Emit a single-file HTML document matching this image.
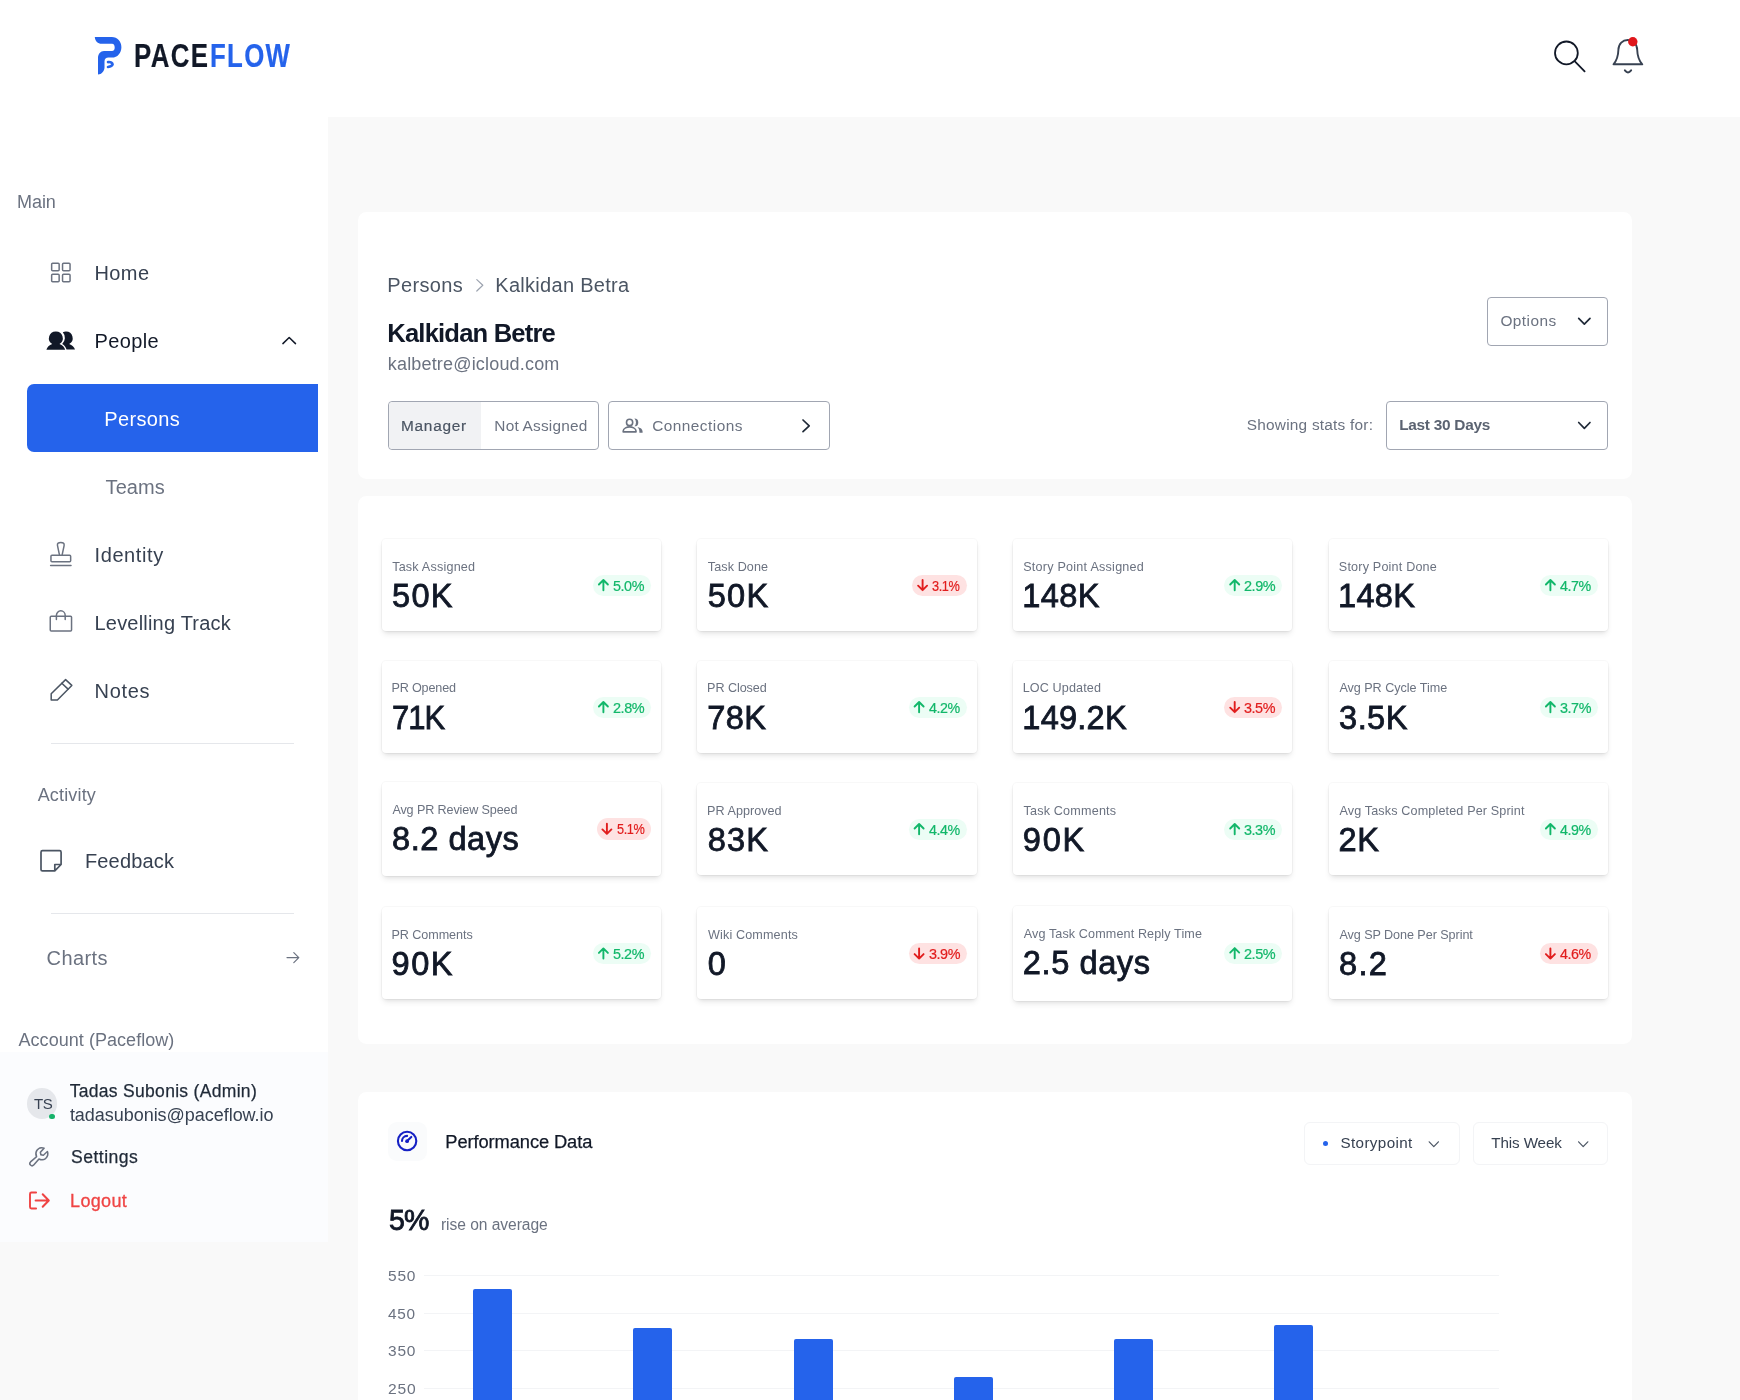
<!DOCTYPE html>
<html lang="en"><head><meta charset="utf-8"><title>Paceflow – Kalkidan Betre</title>
<style>
html,body{margin:0;padding:0;background:#fff;}
body{width:1740px;height:1400px;overflow:hidden;font-family:"Liberation Sans",sans-serif;}
#page{position:relative;width:1740px;height:1400px;overflow:hidden;background:#fff;}
.a{position:absolute;box-sizing:border-box;}
.t{position:absolute;white-space:nowrap;line-height:1;font-family:"Liberation Sans",sans-serif;}
.card{position:absolute;background:#fff;border-radius:8.5px;}
.stat{position:absolute;background:#fff;border-radius:4px;box-shadow:0 4px 6px -1px rgba(0,0,0,.085),0 2px 4px -2px rgba(0,0,0,.10),0 0 0 1px rgba(0,0,0,.028);}
.bg{position:absolute;border-radius:11px;height:21.4px;}
.bg.g{background:#ecfdf5;}
.bg.r{background:#fee2e2;}
.btn{position:absolute;box-sizing:border-box;border:1px solid #a1a6b2;border-radius:4px;background:#fff;}
.dd{position:absolute;box-sizing:border-box;border:1px solid #f3f4f6;border-radius:6px;background:#fff;}
svg.ov{position:absolute;left:0;top:0;width:1740px;height:1400px;overflow:visible;pointer-events:none;}
#tx{position:absolute;left:0;top:0;width:1740px;height:1400px;will-change:transform;}
</style></head>
<body>
<div id="page">
<div class="a" style="left:328.20px;top:117.00px;width:1411.80px;height:1283.00px;background:#f9f9f9;"></div>
<div class="a" style="left:0.00px;top:1242.00px;width:328.20px;height:158.00px;background:#f9f9f9;"></div>
<div class="a" style="left:0.00px;top:1052.00px;width:328.20px;height:190.00px;background:#fbfcfe;"></div>
<div class="a" style="left:27.00px;top:384.00px;width:291.00px;height:68.40px;background:#2563eb;border-radius:7px 0 0 7px;"></div>
<div class="a" style="left:51.00px;top:742.70px;width:243.00px;height:1.20px;background:#e5e7eb;"></div>
<div class="a" style="left:51.00px;top:912.50px;width:243.00px;height:1.20px;background:#e5e7eb;"></div>
<div class="a" style="left:27.00px;top:1088.40px;width:30.00px;height:30.20px;background:#e5e7eb;border-radius:50%;"></div>
<div class="a" style="left:49.40px;top:1113.80px;width:5.60px;height:5.60px;background:#17b26a;border-radius:50%;"></div>
<div class="card" style="left:358.00px;top:212.00px;width:1274.00px;height:267.00px;"></div>
<div class="card" style="left:358.00px;top:496.00px;width:1274.00px;height:548.00px;"></div>
<div class="card" style="left:358.00px;top:1092.00px;width:1274.00px;height:338.00px;"></div>
<div class="btn" style="left:388.00px;top:401.00px;width:211.40px;height:49.00px;"></div>
<div class="a" style="left:389.00px;top:402.00px;width:92.00px;height:47.00px;background:#f1f2f4;border-radius:4px 0 0 4px;"></div>
<div class="btn" style="left:608.30px;top:401.00px;width:221.60px;height:49.00px;"></div>
<div class="btn" style="left:1487.30px;top:297.00px;width:121.10px;height:49.00px;"></div>
<div class="btn" style="left:1386.40px;top:401.00px;width:222.00px;height:49.00px;"></div>
<div class="stat" style="left:381.70px;top:539.00px;width:279.20px;height:92.00px;"></div>
<div class="bg g" style="left:593.00px;top:574.70px;width:58.20px;height:21.40px;"></div>
<div class="stat" style="left:697.40px;top:539.00px;width:279.20px;height:92.00px;"></div>
<div class="bg r" style="left:912.20px;top:574.70px;width:54.70px;height:21.40px;"></div>
<div class="stat" style="left:1013.00px;top:539.00px;width:279.20px;height:92.00px;"></div>
<div class="bg g" style="left:1224.30px;top:574.70px;width:58.20px;height:21.40px;"></div>
<div class="stat" style="left:1328.70px;top:539.00px;width:279.20px;height:92.00px;"></div>
<div class="bg g" style="left:1540.00px;top:574.70px;width:58.20px;height:21.40px;"></div>
<div class="stat" style="left:381.70px;top:661.00px;width:279.20px;height:92.00px;"></div>
<div class="bg g" style="left:593.00px;top:696.70px;width:58.20px;height:21.40px;"></div>
<div class="stat" style="left:697.40px;top:661.00px;width:279.20px;height:92.00px;"></div>
<div class="bg g" style="left:908.70px;top:696.70px;width:58.20px;height:21.40px;"></div>
<div class="stat" style="left:1013.00px;top:661.00px;width:279.20px;height:92.00px;"></div>
<div class="bg r" style="left:1224.30px;top:696.70px;width:58.20px;height:21.40px;"></div>
<div class="stat" style="left:1328.70px;top:661.00px;width:279.20px;height:92.00px;"></div>
<div class="bg g" style="left:1540.00px;top:696.70px;width:58.20px;height:21.40px;"></div>
<div class="stat" style="left:381.70px;top:781.80px;width:279.20px;height:94.40px;"></div>
<div class="bg r" style="left:596.50px;top:818.40px;width:54.70px;height:21.40px;"></div>
<div class="stat" style="left:697.40px;top:783.00px;width:279.20px;height:92.00px;"></div>
<div class="bg g" style="left:908.70px;top:818.70px;width:58.20px;height:21.40px;"></div>
<div class="stat" style="left:1013.00px;top:783.00px;width:279.20px;height:92.00px;"></div>
<div class="bg g" style="left:1224.30px;top:818.70px;width:58.20px;height:21.40px;"></div>
<div class="stat" style="left:1328.70px;top:783.00px;width:279.20px;height:92.00px;"></div>
<div class="bg g" style="left:1540.00px;top:818.70px;width:58.20px;height:21.40px;"></div>
<div class="stat" style="left:381.70px;top:907.40px;width:279.20px;height:92.00px;"></div>
<div class="bg g" style="left:593.00px;top:943.10px;width:58.20px;height:21.40px;"></div>
<div class="stat" style="left:697.40px;top:907.40px;width:279.20px;height:92.00px;"></div>
<div class="bg r" style="left:908.70px;top:943.10px;width:58.20px;height:21.40px;"></div>
<div class="stat" style="left:1013.00px;top:906.20px;width:279.20px;height:94.40px;"></div>
<div class="bg g" style="left:1224.30px;top:942.80px;width:58.20px;height:21.40px;"></div>
<div class="stat" style="left:1328.70px;top:907.40px;width:279.20px;height:92.00px;"></div>
<div class="bg r" style="left:1540.00px;top:943.10px;width:58.20px;height:21.40px;"></div>
<div class="a" style="left:387.50px;top:1122.00px;width:39.00px;height:38.80px;background:#fafbfc;border-radius:9px;"></div>
<div class="dd" style="left:1304.00px;top:1122.00px;width:156.00px;height:43.00px;"></div>
<div class="dd" style="left:1473.00px;top:1122.00px;width:135.00px;height:43.00px;"></div>
<div class="a" style="left:1322.80px;top:1141.00px;width:5.20px;height:5.20px;background:#2563eb;border-radius:50%;"></div>
<div class="a" style="left:424.00px;top:1274.70px;width:1075.00px;height:1.20px;background:#f3f4f6;"></div>
<div class="a" style="left:424.00px;top:1312.60px;width:1075.00px;height:1.20px;background:#f3f4f6;"></div>
<div class="a" style="left:424.00px;top:1349.70px;width:1075.00px;height:1.20px;background:#f3f4f6;"></div>
<div class="a" style="left:424.00px;top:1387.60px;width:1075.00px;height:1.20px;background:#f3f4f6;"></div>
<div class="a" style="left:472.70px;top:1289.40px;width:39.00px;height:120.60px;background:#2563eb;border-radius:2px 2px 0 0;"></div>
<div class="a" style="left:633.20px;top:1328.30px;width:39.00px;height:81.70px;background:#2563eb;border-radius:2px 2px 0 0;"></div>
<div class="a" style="left:793.60px;top:1339.00px;width:39.00px;height:71.00px;background:#2563eb;border-radius:2px 2px 0 0;"></div>
<div class="a" style="left:954.00px;top:1377.00px;width:39.00px;height:33.00px;background:#2563eb;border-radius:2px 2px 0 0;"></div>
<div class="a" style="left:1114.00px;top:1339.00px;width:39.00px;height:71.00px;background:#2563eb;border-radius:2px 2px 0 0;"></div>
<div class="a" style="left:1274.40px;top:1324.60px;width:39.00px;height:85.40px;background:#2563eb;border-radius:2px 2px 0 0;"></div>
<svg class="ov" viewBox="0 0 1740 1400" fill="none" stroke-linecap="round" stroke-linejoin="round">
<!-- logo -->
<path fill="#2563eb" d="M94.8 37H111.8C117.5 37 121.4 41.5 121.4 47.2C121.4 53 117.5 57.6 112 57.6H108.5C106 57.6 104.5 59 104.5 61.5V67.5C104.5 71 101.5 74.5 98 74.5V58C98 54 100.5 51.1 104 51.1H112C113.8 51.1 114.7 49.5 114.7 47.5C114.7 45.4 113.8 43.8 112 43.8H101.5C98 43.8 95 41 94.8 37Z"/>
<path stroke="#2563eb" stroke-width="2.6" d="M108 62.1C111 61.7 112.6 63 112.6 64.4C112.2 65.8 110.6 66.6 108 67"/>
<!-- search -->
<g stroke="#111827" stroke-width="1.8"><circle cx="1566.4" cy="52.9" r="11.4"/><path d="M1574.6 61.1L1584.6 71.3"/></g>
<!-- bell -->
<g stroke="#374151" stroke-width="1.9"><path d="M1613.5 64.3C1616.6 60.8 1618.2 56.5 1618.4 49.8C1618.6 43.6 1622.6 40 1627.8 40C1633 40 1637 43.6 1637.2 49.8C1637.4 56.5 1639 60.8 1642.3 64.3Z"/><path stroke-width="2" d="M1624.9 70.4Q1628 74.4 1631.1 70.4"/></g>
<circle cx="1632.8" cy="41.8" r="4.7" fill="#e0161b"/>
<!-- home -->
<g stroke="#6b7280" stroke-width="1.5"><rect x="51.65" y="263.25" width="7.5" height="7.5" rx="1"/><rect x="62.55" y="263.25" width="7.5" height="7.5" rx="1"/><rect x="51.65" y="274.15" width="7.5" height="7.5" rx="1"/><rect x="62.55" y="274.15" width="7.5" height="7.5" rx="1"/></g>
<!-- people -->
<g fill="#111827"><path d="M65.9 331.5a6.6 6.6 0 0 1 3.3 12.4c2.9 1.2 5 3 5.8 5.7h-8.5c-.5-2.4-2-4.3-4.3-5.6a8.4 8.4 0 0 0 .6-11.7a6.6 6.6 0 0 1 3.1-.8z"/><path d="M55.9 331.4a6.8 6.8 0 0 1 3.6 12.6c3 1.2 5 3.1 5.7 5.7h-18.8c.7-2.6 2.8-4.5 5.8-5.7a6.8 6.8 0 0 1 3.7-12.6z"/></g>
<path stroke="#111827" stroke-width="1.5" d="M282.9 343.6L289.2 337.5L295.5 343.6"/>
<!-- stamp -->
<g stroke="#6b7280" stroke-width="1.5"><path d="M59.4 554.6L57.5 545.6C57 543.2 58.6 542.6 60.8 542.6C63 542.6 64.6 543.2 64.1 545.6L62.2 554.6"/><rect x="50.95" y="555.15" width="19.7" height="6.5" rx="1"/><path d="M50.6 565.4H71"/></g>
<!-- bag -->
<g stroke="#6b7280" stroke-width="1.5"><rect x="50.25" y="616.15" width="21.3" height="14.9" rx="1"/><path d="M56.4 619.4V615.6a4.4 4.8 0 0 1 8.8 0V619.4"/></g>
<!-- pencil -->
<g stroke="#4b5563" stroke-width="1.5"><path d="M65.6 679.6L71.8 685.4L57.4 700.1H51.2V693.7Z"/><path d="M61.8 683.3L68.1 689.1"/></g>
<!-- note -->
<path stroke="#4b5563" stroke-width="1.7" d="M42.5 850.7H59.6a1.5 1.5 0 0 1 1.5 1.5V864.5L54.8 870.9H42.5a1.5 1.5 0 0 1-1.5-1.5V852.2a1.5 1.5 0 0 1 1.5-1.5ZM54.8 870.6V864.5H61"/>
<!-- charts arrow -->
<path stroke="#6b7280" stroke-width="1.2" d="M287 957.6H298.8M293.8 952.6L298.8 957.6L293.8 962.6"/>
<!-- wrench -->
<g transform="translate(26.85 1144.75) scale(.09375)"><path fill="#6b7280" stroke="none" d="M226.76,69a8,8,0,0,0-12.84-2.88l-40.3,37.19-17.23-3.7-3.7-17.23,37.19-40.3A8,8,0,0,0,187,29.24,72,72,0,0,0,88,96,72.34,72.34,0,0,0,94,124.94L33.79,177c-.15.12-.29.26-.43.39a32,32,0,0,0,45.26,45.26c.13-.13.27-.28.39-.42L131.06,162A72,72,0,0,0,232,96,71.56,71.56,0,0,0,226.76,69ZM160,152a56.14,56.14,0,0,1-27.07-7,8,8,0,0,0-9.92,1.77L67.11,211.51a16,16,0,0,1-22.62-22.62L109.18,133a8,8,0,0,0,1.77-9.93,56,56,0,0,1,58.36-82.31l-31.2,33.81a8,8,0,0,0-1.94,7.1L141.83,108a8,8,0,0,0,6.14,6.14l26.35,5.66a8,8,0,0,0,7.1-1.94l33.81-31.2A56.06,56.06,0,0,1,160,152Z"/></g>
<!-- logout -->
<g stroke="#ef4444" stroke-width="1.9"><path d="M36.1 1192.5H31.4a1.4 1.4 0 0 0-1.4 1.4V1207.1a1.4 1.4 0 0 0 1.4 1.4H36.1"/><path stroke-width="2" d="M35.6 1200.5H48.4M42.7 1194.2L48.8 1200.5L42.7 1206.8"/></g>
<!-- breadcrumb chevron -->
<path stroke="#9ca3af" stroke-width="1.2" d="M476.8 279.6L482.8 285.3L476.8 291"/>
<!-- connections icon -->
<g stroke="#6b7280" stroke-width="1.6"><circle cx="629.6" cy="422.4" r="3.1"/><path d="M623.2 431.9v-1c0-2.8 4.1-4 6.4-4s6.4 1.2 6.4 4v1Z"/></g><g fill="#6b7280"><path d="M634.4 418.5a3.9 3.9 0 0 1 0 7.8a5.6 5.6 0 0 0 0-7.8z"/><path d="M637.4 427c3.1.6 5.2 2.2 5.2 4.5v1.2h-3.2v-1.2c0-1.8-.8-3.3-2-4.5z"/></g>
<path stroke="#1f2937" stroke-width="1.7" d="M803 420L809.2 425.8L803 431.6"/>
<!-- select chevrons -->
<path stroke="#1f2937" stroke-width="1.7" d="M1578.7 318.3L1584.35 324.1L1590 318.3"/>
<path stroke="#1f2937" stroke-width="1.7" d="M1578.7 422.5L1584.35 428.3L1590 422.5"/>
<!-- perf icon -->
<g stroke="#1621c4" stroke-width="2.1"><circle cx="407.1" cy="1141" r="9.2"/><path d="M402 1141a5.1 5.1 0 0 1 5.1-5.1"/><path d="M407.1 1141.1L411.3 1136.9"/></g>
<circle cx="407.1" cy="1141.2" r="1.9" fill="#1621c4"/>
<!-- chart dropdown chevrons -->
<path stroke="#4b5563" stroke-width="1.2" d="M1429.2 1141.8L1433.8 1146.6L1438.4 1141.8"/>
<path stroke="#4b5563" stroke-width="1.2" d="M1578.6 1141.8L1583.2 1146.6L1587.8 1141.8"/>
<path stroke="#12b76a" stroke-width="1.9" d="M603.4 590.2V580.1M598.9 584.5L603.4 580.0L607.9 584.5"/>
<path stroke="#e11d1d" stroke-width="1.9" d="M922.6 580.0V590.1M918.1 585.7L922.6 590.2L927.1 585.7"/>
<path stroke="#12b76a" stroke-width="1.9" d="M1234.7 590.2V580.1M1230.2 584.5L1234.7 580.0L1239.2 584.5"/>
<path stroke="#12b76a" stroke-width="1.9" d="M1550.4 590.2V580.1M1545.9 584.5L1550.4 580.0L1554.9 584.5"/>
<path stroke="#12b76a" stroke-width="1.9" d="M603.4 712.2V702.1M598.9 706.5L603.4 702.0L607.9 706.5"/>
<path stroke="#12b76a" stroke-width="1.9" d="M919.1 712.2V702.1M914.6 706.5L919.1 702.0L923.6 706.5"/>
<path stroke="#e11d1d" stroke-width="1.9" d="M1234.7 702.0V712.1M1230.2 707.7L1234.7 712.2L1239.2 707.7"/>
<path stroke="#12b76a" stroke-width="1.9" d="M1550.4 712.2V702.1M1545.9 706.5L1550.4 702.0L1554.9 706.5"/>
<path stroke="#e11d1d" stroke-width="1.9" d="M606.9 823.7V833.8M602.4 829.4L606.9 833.9L611.4 829.4"/>
<path stroke="#12b76a" stroke-width="1.9" d="M919.1 834.2V824.1M914.6 828.5L919.1 824.0L923.6 828.5"/>
<path stroke="#12b76a" stroke-width="1.9" d="M1234.7 834.2V824.1M1230.2 828.5L1234.7 824.0L1239.2 828.5"/>
<path stroke="#12b76a" stroke-width="1.9" d="M1550.4 834.2V824.1M1545.9 828.5L1550.4 824.0L1554.9 828.5"/>
<path stroke="#12b76a" stroke-width="1.9" d="M603.4 958.6V948.5M598.9 952.9L603.4 948.4L607.9 952.9"/>
<path stroke="#e11d1d" stroke-width="1.9" d="M919.1 948.4V958.5M914.6 954.1L919.1 958.6L923.6 954.1"/>
<path stroke="#12b76a" stroke-width="1.9" d="M1234.7 958.3V948.2M1230.2 952.6L1234.7 948.1L1239.2 952.6"/>
<path stroke="#e11d1d" stroke-width="1.9" d="M1550.4 948.4V958.5M1545.9 954.1L1550.4 958.6L1554.9 954.1"/>
</svg>

<div id="tx">
<span class="t" style="left:134.18px;top:39.00px;font-size:33px;letter-spacing:1.700px;font-weight:700;color:#111827;-webkit-text-stroke:0.2px #111827;transform:scaleX(0.7833);transform-origin:0 0;">PACE</span>
<span class="t" style="left:209.79px;top:39.00px;font-size:33px;letter-spacing:1.700px;font-weight:700;color:#2563eb;-webkit-text-stroke:0.2px #2563eb;transform:scaleX(0.7823);transform-origin:0 0;">FLOW</span>
<span class="t" style="left:17.09px;top:193.00px;font-size:18px;letter-spacing:-0.099px;color:#6b7280;">Main</span>
<span class="t" style="left:94.54px;top:263.00px;font-size:20px;letter-spacing:0.374px;color:#374151;">Home</span>
<span class="t" style="left:94.54px;top:331.00px;font-size:20px;letter-spacing:0.360px;color:#111827;">People</span>
<span class="t" style="left:104.34px;top:409.00px;font-size:20px;letter-spacing:0.353px;color:#ffffff;">Persons</span>
<span class="t" style="left:105.59px;top:477.00px;font-size:20px;letter-spacing:0.083px;color:#6b7280;">Teams</span>
<span class="t" style="left:94.54px;top:545.00px;font-size:20px;letter-spacing:0.597px;color:#374151;">Identity</span>
<span class="t" style="left:94.54px;top:613.00px;font-size:20px;letter-spacing:0.199px;color:#374151;">Levelling Track</span>
<span class="t" style="left:94.54px;top:681.00px;font-size:20px;letter-spacing:0.660px;color:#374151;">Notes</span>
<span class="t" style="left:37.70px;top:786.00px;font-size:18px;letter-spacing:0.156px;color:#6b7280;">Activity</span>
<span class="t" style="left:84.94px;top:851.00px;font-size:20px;letter-spacing:0.160px;color:#374151;">Feedback</span>
<span class="t" style="left:46.56px;top:948.00px;font-size:20px;letter-spacing:0.391px;color:#6b7280;">Charts</span>
<span class="t" style="left:18.50px;top:1031.00px;font-size:18px;letter-spacing:0.045px;color:#6b7280;">Account (Paceflow)</span>
<span class="t" style="left:34.07px;top:1096.00px;font-size:15.2px;letter-spacing:-0.456px;color:#374151;transform:scaleX(0.9894);transform-origin:0 0;">TS</span>
<span class="t" style="left:69.63px;top:1083.00px;font-size:17.5px;letter-spacing:0.308px;color:#1f2937;-webkit-text-stroke:0.25px #1f2937;">Tadas Subonis (Admin)</span>
<span class="t" style="left:69.90px;top:1106.00px;font-size:18px;letter-spacing:-0.035px;color:#374151;">tadasubonis@paceflow.io</span>
<span class="t" style="left:70.95px;top:1149.00px;font-size:17.6px;letter-spacing:0.487px;color:#1f2937;-webkit-text-stroke:0.25px #1f2937;">Settings</span>
<span class="t" style="left:70.09px;top:1192.00px;font-size:18px;letter-spacing:0.318px;color:#ef4444;-webkit-text-stroke:0.3px #ef4444;">Logout</span>
<span class="t" style="left:387.34px;top:275.00px;font-size:20px;letter-spacing:0.353px;color:#4b5563;">Persons</span>
<span class="t" style="left:495.34px;top:275.00px;font-size:20px;letter-spacing:0.281px;color:#4b5563;">Kalkidan Betra</span>
<span class="t" style="left:387.30px;top:321.00px;font-size:25.6px;letter-spacing:-0.825px;font-weight:700;color:#111827;">Kalkidan Betre</span>
<span class="t" style="left:387.77px;top:355.00px;font-size:18px;letter-spacing:0.178px;color:#6b7280;">kalbetre@icloud.com</span>
<span class="t" style="left:400.90px;top:418.00px;font-size:15.4px;letter-spacing:0.766px;color:#4b5563;-webkit-text-stroke:0.2px #4b5563;">Manager</span>
<span class="t" style="left:494.30px;top:418.00px;font-size:15.4px;letter-spacing:0.216px;color:#6b7280;">Not Assigned</span>
<span class="t" style="left:652.18px;top:418.00px;font-size:15.4px;letter-spacing:0.469px;color:#6b7280;">Connections</span>
<span class="t" style="left:1500.38px;top:313.00px;font-size:15.4px;letter-spacing:0.472px;color:#6b7280;">Options</span>
<span class="t" style="left:1246.82px;top:417.00px;font-size:15.4px;letter-spacing:0.222px;color:#6b7280;">Showing stats for:</span>
<span class="t" style="left:1399.14px;top:417.00px;font-size:15.4px;letter-spacing:-0.262px;font-weight:700;color:#5b6371;">Last 30 Days</span>
<span class="t" style="left:392.15px;top:561.00px;font-size:12.6px;letter-spacing:0.201px;color:#6b7280;">Task Assigned</span>
<span class="t" style="left:392.08px;top:580.00px;font-size:32.6px;letter-spacing:1.232px;color:#111827;-webkit-text-stroke:0.8px #111827;">50K</span>
<span class="t" style="left:613.05px;top:578.00px;font-size:15.4px;letter-spacing:-0.462px;color:#12b76a;-webkit-text-stroke:0.22px #12b76a;transform:scaleX(0.9336);transform-origin:0 0;">5.0%</span>
<span class="t" style="left:707.85px;top:561.00px;font-size:12.6px;letter-spacing:0.085px;color:#6b7280;">Task Done</span>
<span class="t" style="left:707.78px;top:580.00px;font-size:32.6px;letter-spacing:1.232px;color:#111827;-webkit-text-stroke:0.8px #111827;">50K</span>
<span class="t" style="left:932.30px;top:578.00px;font-size:15.4px;letter-spacing:-0.462px;color:#e11d1d;-webkit-text-stroke:0.22px #e11d1d;transform:scaleX(0.8268);transform-origin:0 0;">3.1%</span>
<span class="t" style="left:1023.15px;top:561.00px;font-size:12.6px;letter-spacing:0.237px;color:#6b7280;">Story Point Assigned</span>
<span class="t" style="left:1022.36px;top:580.00px;font-size:32.6px;letter-spacing:0.317px;color:#111827;-webkit-text-stroke:0.8px #111827;">148K</span>
<span class="t" style="left:1244.12px;top:578.00px;font-size:15.4px;letter-spacing:-0.462px;color:#12b76a;-webkit-text-stroke:0.22px #12b76a;transform:scaleX(0.9405);transform-origin:0 0;">2.9%</span>
<span class="t" style="left:1338.85px;top:561.00px;font-size:12.6px;letter-spacing:0.184px;color:#6b7280;">Story Point Done</span>
<span class="t" style="left:1338.06px;top:580.00px;font-size:32.6px;letter-spacing:0.284px;color:#111827;-webkit-text-stroke:0.8px #111827;">148K</span>
<span class="t" style="left:1560.28px;top:578.00px;font-size:15.4px;letter-spacing:-0.462px;color:#12b76a;-webkit-text-stroke:0.22px #12b76a;transform:scaleX(0.9268);transform-origin:0 0;">4.7%</span>
<span class="t" style="left:391.40px;top:682.00px;font-size:12.6px;letter-spacing:-0.142px;color:#6b7280;">PR Opened</span>
<span class="t" style="left:391.65px;top:702.00px;font-size:32.6px;letter-spacing:-0.978px;color:#111827;-webkit-text-stroke:0.8px #111827;transform:scaleX(0.9507);transform-origin:0 0;">71K</span>
<span class="t" style="left:612.82px;top:700.00px;font-size:15.4px;letter-spacing:-0.462px;color:#12b76a;-webkit-text-stroke:0.22px #12b76a;transform:scaleX(0.9405);transform-origin:0 0;">2.8%</span>
<span class="t" style="left:707.10px;top:682.00px;font-size:12.6px;letter-spacing:-0.065px;color:#6b7280;">PR Closed</span>
<span class="t" style="left:707.27px;top:702.00px;font-size:32.6px;letter-spacing:0.337px;color:#111827;-webkit-text-stroke:0.8px #111827;">78K</span>
<span class="t" style="left:928.98px;top:700.00px;font-size:15.4px;letter-spacing:-0.462px;color:#12b76a;-webkit-text-stroke:0.22px #12b76a;transform:scaleX(0.9268);transform-origin:0 0;">4.2%</span>
<span class="t" style="left:1022.70px;top:682.00px;font-size:12.6px;letter-spacing:0.126px;color:#6b7280;">LOC Updated</span>
<span class="t" style="left:1022.36px;top:702.00px;font-size:32.6px;letter-spacing:0.213px;color:#111827;-webkit-text-stroke:0.8px #111827;">149.2K</span>
<span class="t" style="left:1244.35px;top:700.00px;font-size:15.4px;letter-spacing:-0.462px;color:#e11d1d;-webkit-text-stroke:0.22px #e11d1d;transform:scaleX(0.9336);transform-origin:0 0;">3.5%</span>
<span class="t" style="left:1339.40px;top:682.00px;font-size:12.6px;letter-spacing:-0.029px;color:#6b7280;">Avg PR Cycle Time</span>
<span class="t" style="left:1339.08px;top:702.00px;font-size:32.6px;letter-spacing:0.436px;color:#111827;-webkit-text-stroke:0.8px #111827;">3.5K</span>
<span class="t" style="left:1560.05px;top:700.00px;font-size:15.4px;letter-spacing:-0.462px;color:#12b76a;-webkit-text-stroke:0.22px #12b76a;transform:scaleX(0.9336);transform-origin:0 0;">3.7%</span>
<span class="t" style="left:392.40px;top:804.00px;font-size:12.6px;letter-spacing:-0.118px;color:#6b7280;">Avg PR Review Speed</span>
<span class="t" style="left:392.08px;top:823.00px;font-size:32.6px;letter-spacing:0.500px;color:#111827;-webkit-text-stroke:0.8px #111827;">8.2 days</span>
<span class="t" style="left:616.60px;top:821.00px;font-size:15.4px;letter-spacing:-0.462px;color:#e11d1d;-webkit-text-stroke:0.22px #e11d1d;transform:scaleX(0.8268);transform-origin:0 0;">5.1%</span>
<span class="t" style="left:707.10px;top:805.00px;font-size:12.6px;letter-spacing:0.027px;color:#6b7280;">PR Approved</span>
<span class="t" style="left:707.78px;top:824.00px;font-size:32.6px;letter-spacing:1.182px;color:#111827;-webkit-text-stroke:0.8px #111827;">83K</span>
<span class="t" style="left:928.98px;top:822.00px;font-size:15.4px;letter-spacing:-0.462px;color:#12b76a;-webkit-text-stroke:0.22px #12b76a;transform:scaleX(0.9268);transform-origin:0 0;">4.4%</span>
<span class="t" style="left:1023.45px;top:805.00px;font-size:12.6px;letter-spacing:0.198px;color:#6b7280;">Task Comments</span>
<span class="t" style="left:1022.87px;top:824.00px;font-size:32.6px;letter-spacing:1.687px;color:#111827;-webkit-text-stroke:0.8px #111827;">90K</span>
<span class="t" style="left:1244.35px;top:822.00px;font-size:15.4px;letter-spacing:-0.462px;color:#12b76a;-webkit-text-stroke:0.22px #12b76a;transform:scaleX(0.9336);transform-origin:0 0;">3.3%</span>
<span class="t" style="left:1339.40px;top:805.00px;font-size:12.6px;letter-spacing:0.145px;color:#6b7280;">Avg Tasks Completed Per Sprint</span>
<span class="t" style="left:1338.57px;top:824.00px;font-size:32.6px;letter-spacing:0.504px;color:#111827;-webkit-text-stroke:0.8px #111827;">2K</span>
<span class="t" style="left:1560.28px;top:822.00px;font-size:15.4px;letter-spacing:-0.462px;color:#12b76a;-webkit-text-stroke:0.22px #12b76a;transform:scaleX(0.9268);transform-origin:0 0;">4.9%</span>
<span class="t" style="left:391.40px;top:929.00px;font-size:12.6px;letter-spacing:-0.057px;color:#6b7280;">PR Comments</span>
<span class="t" style="left:391.57px;top:948.00px;font-size:32.6px;letter-spacing:1.487px;color:#111827;-webkit-text-stroke:0.8px #111827;">90K</span>
<span class="t" style="left:613.05px;top:946.00px;font-size:15.4px;letter-spacing:-0.462px;color:#12b76a;-webkit-text-stroke:0.22px #12b76a;transform:scaleX(0.9336);transform-origin:0 0;">5.2%</span>
<span class="t" style="left:708.05px;top:929.00px;font-size:12.6px;letter-spacing:0.133px;color:#6b7280;">Wiki Comments</span>
<span class="t" style="left:707.78px;top:948.00px;font-size:32.6px;color:#111827;-webkit-text-stroke:0.8px #111827;">0</span>
<span class="t" style="left:928.75px;top:946.00px;font-size:15.4px;letter-spacing:-0.462px;color:#e11d1d;-webkit-text-stroke:0.22px #e11d1d;transform:scaleX(0.9336);transform-origin:0 0;">3.9%</span>
<span class="t" style="left:1023.70px;top:928.00px;font-size:12.6px;letter-spacing:0.116px;color:#6b7280;">Avg Task Comment Reply Time</span>
<span class="t" style="left:1022.87px;top:947.00px;font-size:32.6px;letter-spacing:0.573px;color:#111827;-webkit-text-stroke:0.8px #111827;">2.5 days</span>
<span class="t" style="left:1244.12px;top:946.00px;font-size:15.4px;letter-spacing:-0.462px;color:#12b76a;-webkit-text-stroke:0.22px #12b76a;transform:scaleX(0.9405);transform-origin:0 0;">2.5%</span>
<span class="t" style="left:1339.40px;top:929.00px;font-size:12.6px;letter-spacing:-0.057px;color:#6b7280;">Avg SP Done Per Sprint</span>
<span class="t" style="left:1339.08px;top:948.00px;font-size:32.6px;letter-spacing:1.211px;color:#111827;-webkit-text-stroke:0.8px #111827;">8.2</span>
<span class="t" style="left:1560.28px;top:946.00px;font-size:15.4px;letter-spacing:-0.462px;color:#e11d1d;-webkit-text-stroke:0.22px #e11d1d;transform:scaleX(0.9268);transform-origin:0 0;">4.6%</span>
<span class="t" style="left:445.37px;top:1133.00px;font-size:18.3px;letter-spacing:-0.092px;color:#111827;-webkit-text-stroke:0.25px #111827;">Performance Data</span>
<span class="t" style="left:388.51px;top:1205.00px;font-size:30.2px;letter-spacing:-0.906px;color:#111827;-webkit-text-stroke:0.85px #111827;transform:scaleX(0.9462);transform-origin:0 0;">5%</span>
<span class="t" style="left:440.92px;top:1217.00px;font-size:15.6px;letter-spacing:-0.045px;color:#6b7280;">rise on average</span>
<span class="t" style="left:388.22px;top:1270.00px;font-size:13.8px;letter-spacing:0.690px;color:#6b7280;transform:scaleX(1.1215);transform-origin:0 0;">550</span>
<span class="t" style="left:388.46px;top:1308.00px;font-size:13.8px;letter-spacing:0.690px;color:#6b7280;transform:scaleX(1.1113);transform-origin:0 0;">450</span>
<span class="t" style="left:388.22px;top:1345.00px;font-size:13.8px;letter-spacing:0.690px;color:#6b7280;transform:scaleX(1.1215);transform-origin:0 0;">350</span>
<span class="t" style="left:387.97px;top:1383.00px;font-size:13.8px;letter-spacing:0.690px;color:#6b7280;transform:scaleX(1.1318);transform-origin:0 0;">250</span>
<span class="t" style="left:1340.43px;top:1135.00px;font-size:15.2px;letter-spacing:0.387px;color:#374151;">Storypoint</span>
<span class="t" style="left:1491.26px;top:1135.00px;font-size:15.2px;letter-spacing:-0.102px;color:#374151;">This Week</span>
</div>
</div>
</body></html>
